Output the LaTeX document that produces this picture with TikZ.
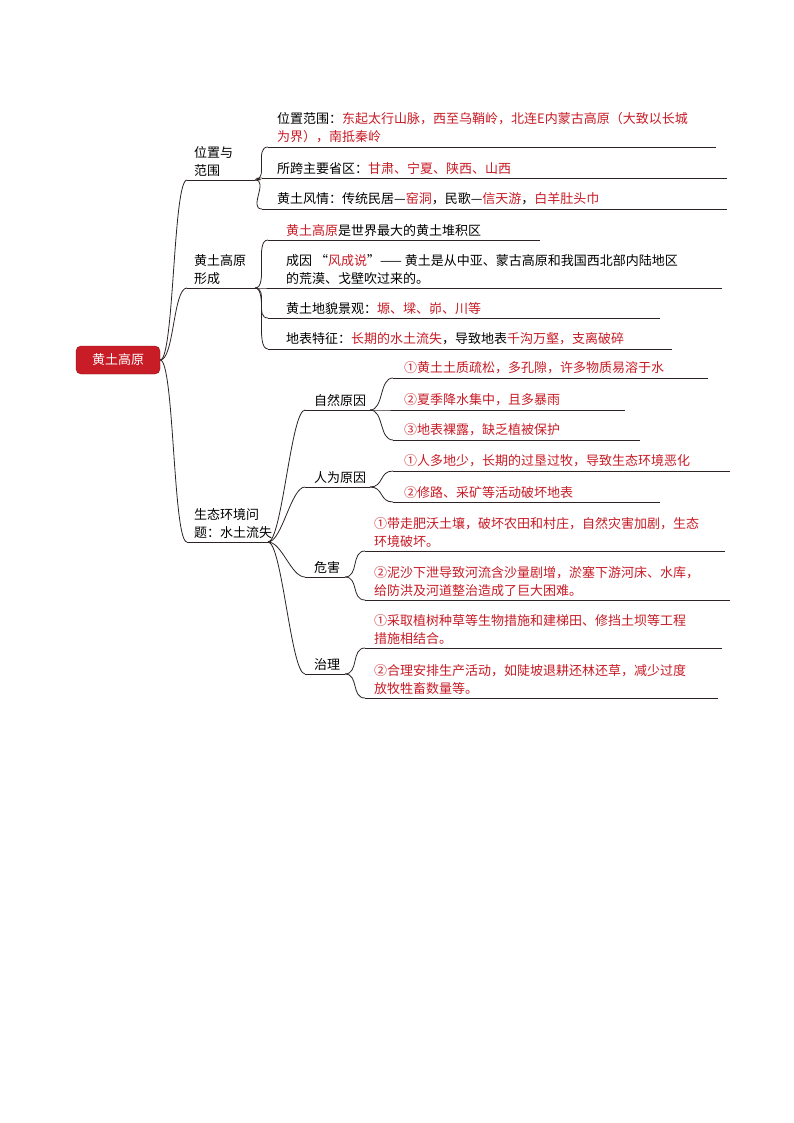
\documentclass[tikz,border=0pt]{standalone}
\usepackage{fontspec}
\setmainfont{Noto Sans CJK SC}
\definecolor{hred}{RGB}{200,28,38}
\definecolor{lnc}{RGB}{45,35,35}
\tikzset{
  ul/.style={draw=lnc, line width=0.9pt},
  cv/.style={draw=lnc, line width=0.8pt},
  txt/.style={anchor=south west, inner xsep=0pt, inner ysep=3.5pt, align=left, font=\fontsize{13}{18}\selectfont, text=black},
}
\newcommand{\R}[1]{\textcolor{hred}{#1}}
\newcommand{\leaf}[6]{% name, x1, x2, y, xoffset, text
  \coordinate (#1-l) at (#2,#4);
  \coordinate (#1-r) at (#3,#4);
  \draw[ul] (#1-l) -- (#1-r);
  \node[txt] (#1) at (#2+#5,#4) {#6};
}
\newcommand{\link}[2]{\draw[cv] (#1) .. controls ($(#1)+(14,0)$) and ($(#2)+(-14,0)$) .. (#2);}
\usetikzlibrary{calc}
\begin{document}
\begin{tikzpicture}[x=1pt,y=-1pt]
\useasboundingbox (0,0) rectangle (794,1123);
\fill[white] (0,0) rectangle (794,1123);
\node[fill=hred, draw=hred!70!black, rounded corners=5pt, minimum width=84pt, minimum height=28pt, text=white, font=\fontsize{13}{16}\selectfont] (root) at (118,360) {黄土高原};

% level 1
\leaf{a}{187}{255}{180}{7}{位置与\\范围}
\leaf{b}{187}{255}{288}{7}{黄土高原\\形成}
\leaf{c}{187}{268}{542}{7}{生态环境问\\题：水土流失}
\link{root.east}{a-l}
\link{root.east}{b-l}
\link{root.east}{c-l}

% a children
\leaf{a1}{268}{716}{147}{9}{位置范围：\R{东起太行山脉，西至乌鞘岭，北连E内蒙古高原（大致以长城}\\\R{为界），南抵秦岭}}
\leaf{a2}{262}{727}{178}{15}{所跨主要省区：\R{甘肃、宁夏、陕西、山西}}
\leaf{a3}{262}{727}{209}{15}{黄土风情：传统民居—\R{窑洞}，民歌—\R{信天游}，\R{白羊肚头巾}}
\link{a-r}{a1-l}
\link{a-r}{a2-l}
\link{a-r}{a3-l}

% b children
\leaf{b1}{268}{540}{240}{18}{\R{黄土高原}是世界最大的黄土堆积区}
\leaf{b2}{268}{722}{288}{18}{成因 “\R{风成说}”—— 黄土是从中亚、蒙古高原和我国西北部内陆地区\\的荒漠、戈壁吹过来的。}
\leaf{b3}{268}{660}{318}{18}{黄土地貌景观：\R{塬、墚、峁、川等}}
\leaf{b4}{268}{672}{349}{18}{地表特征：\R{长期的水土流失}，导致地表\R{千沟万壑，支离破碎}}
\link{b-r}{b1-l}
\link{b-r}{b2-l}
\link{b-r}{b3-l}
\link{b-r}{b4-l}

% c children
\leaf{c1}{305}{370}{410}{9}{自然原因}
\leaf{c2}{305}{370}{487}{9}{人为原因}
\leaf{c3}{305}{345}{577}{9}{危害}
\leaf{c4}{305}{345}{674}{9}{治理}
\link{c-r}{c1-l}
\link{c-r}{c2-l}
\link{c-r}{c3-l}
\link{c-r}{c4-l}

\leaf{d1}{393}{708}{378}{11}{\R{①黄土土质疏松，多孔隙，许多物质易溶于水}}
\leaf{d2}{393}{625}{410}{11}{\R{②夏季降水集中，且多暴雨}}
\leaf{d3}{393}{640}{440}{11}{\R{③地表裸露，缺乏植被保护}}
\link{c1-r}{d1-l}
\link{c1-r}{d2-l}
\link{c1-r}{d3-l}

\leaf{e1}{393}{730}{471}{11}{\R{①人多地少，长期的过垦过牧，导致生态环境恶化}}
\leaf{e2}{393}{660}{502}{11}{\R{②修路、采矿等活动破坏地表}}
\link{c2-r}{e1-l}
\link{c2-r}{e2-l}

\leaf{f1}{365}{725}{551}{9}{\R{①带走肥沃土壤，破坏农田和村庄，自然灾害加剧，生态}\\\R{环境破坏。}}
\leaf{f2}{365}{730}{600}{9}{\R{②泥沙下泄导致河流含沙量剧增，淤塞下游河床、水库，}\\\R{给防洪及河道整治造成了巨大困难。}}
\link{c3-r}{f1-l}
\link{c3-r}{f2-l}

\leaf{g1}{365}{722}{648}{9}{\R{①采取植树种草等生物措施和建梯田、修挡土坝等工程}\\\R{措施相结合。}}
\leaf{g2}{365}{718}{698}{9}{\R{②合理安排生产活动，如陡坡退耕还林还草，减少过度}\\\R{放牧牲畜数量等。}}
\link{c4-r}{g1-l}
\link{c4-r}{g2-l}
\end{tikzpicture}
\end{document}
